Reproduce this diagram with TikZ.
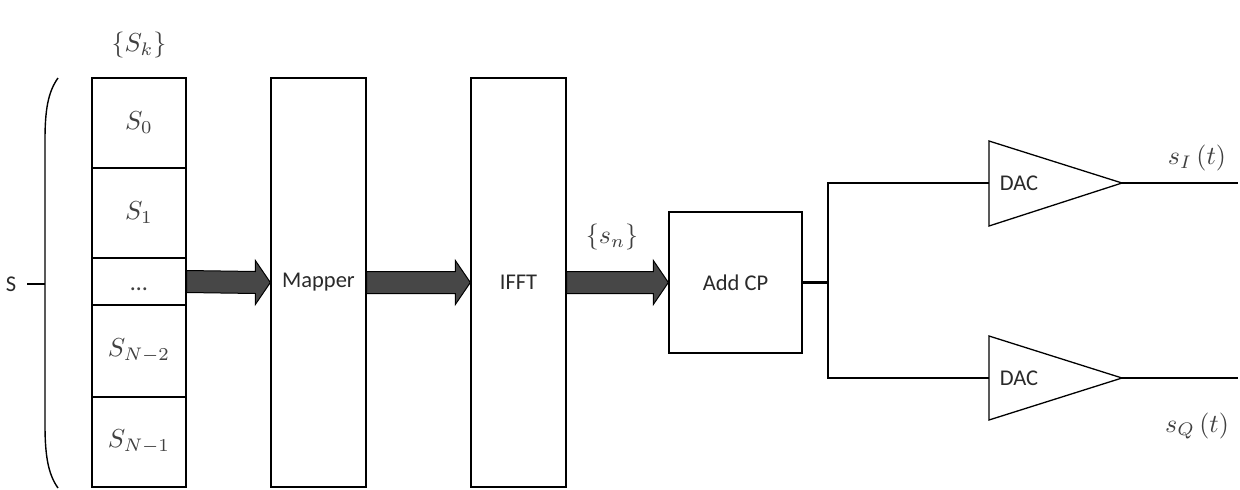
\documentclass[tikz,border=0pt]{standalone}
\usepackage{graphicx}
\usepackage{fontspec}
\setmainfont{Carlito}
\usetikzlibrary{calc}
\definecolor{arrowfill}{HTML}{474747}
\definecolor{txt}{HTML}{2a2a2a}
\definecolor{mtxt}{HTML}{404040}
\newcommand{\bm}[1]{\scalebox{2.6}{\normalsize$#1$}}
\tikzset{
  blk/.style={draw=black, line width=1.3pt, fill=white, inner sep=0pt, text=txt,
    font=\fontsize{22.5}{26}\selectfont},
  cell/.style={blk, minimum width=94pt, text=mtxt},
  mlabel/.style={inner sep=0pt, text=mtxt},
  sans/.style={inner sep=0pt, text=txt, font=\fontsize{22.5}{26}\selectfont},
  wire/.style={draw=black, line width=1.3pt},
  barrow/.style={draw=black, line width=1pt, fill=arrowfill, line join=miter}
}
\newcommand{\blockarrow}[2]{%
  \path[barrow] ($(#1.east)+(0,-11)$) -- ($(#2.west)+(-15,-11)$) -- ($(#2.west)+(-15,-22)$)
    -- (#2.west) -- ($(#2.west)+(-15,22)$) -- ($(#2.west)+(-15,11)$) -- ($(#1.east)+(0,11)$) -- cycle;}
\begin{document}
\begin{tikzpicture}[x=1pt,y=-1pt]
\useasboundingbox (0,0) rectangle (1240,490);
% stack of symbols
\node[cell, minimum height=90pt] (c0) at (139,123) {\bm{S_0}};
\node[cell, minimum height=90pt] (c1) at (139,213) {\bm{S_1}};
\node[cell, minimum height=47pt] (c2) at (139,281.5) {};
\node[inner sep=0pt, text=mtxt, font=\fontsize{24}{28}\selectfont] (dots) at (139,289) {…};
\node[cell, minimum height=92pt] (c3) at (139,351) {\bm{S_{N-2}}};
\node[cell, minimum height=90pt] (c4) at (139,442) {\bm{S_{N-1}}};
\node[mlabel] (sk) at (139,45) {\bm{\{S_k\}}};
% brace and S
\node[sans] (S) at (11,284) {S};
\coordinate (br) at (45,284);
\draw[wire, line width=1.4pt] (58,78) .. controls (48,92) and (45,110) .. (45,140) -- (45,425) .. controls (45,455) and (48,474) .. (58,488);
\draw[wire, line width=1.1pt] ($(S.east)+(11,0)$) -- (br);
% blocks
\node[blk, minimum width=95pt, minimum height=409pt] (map) at (318.5,282.5) {Mapper};
\node[blk, minimum width=95pt, minimum height=409pt] (ifft) at (518.5,282.5) {IFFT};
\node[blk, minimum width=133pt, minimum height=141pt] (cp) at (735.5,282.5) {Add CP};
\node[mlabel] (sn) at (612,237) {\bm{\{s_n\}}};
% block arrows
\blockarrow{c2}{map}
\blockarrow{map}{ifft}
\blockarrow{ifft}{cp}
% DACs
\coordinate (dIw) at (989,183);
\coordinate (dIa) at (1122,183);
\coordinate (dQw) at (989,378);
\coordinate (dQa) at (1122,378);
\draw[wire, line join=miter] (989,141) -- (dIa) -- (989,226) -- cycle;
\draw[wire, line join=miter] (989,336) -- (dQa) -- (989,420) -- cycle;
\node[sans] (dacI) at (1019,183) {DAC};
\node[sans] (dacQ) at (1019,378) {DAC};
\coordinate (split) at (828,282.5);
\draw[wire, line width=2.2pt] (cp.east) -- (split);
\draw[wire] (dIw) -| (828,282.5) |- (dQw);
\coordinate (oI) at (1238,183);
\coordinate (oQ) at (1238,378);
\draw[wire] (dIa) -- (oI);
\draw[wire] (dQa) -- (oQ);
\node[mlabel] (sI) at (1197,158) {\bm{s_I\,(t)}};
\node[mlabel] (sQ) at (1197,426) {\bm{s_Q\,(t)}};
\end{tikzpicture}
\end{document}
